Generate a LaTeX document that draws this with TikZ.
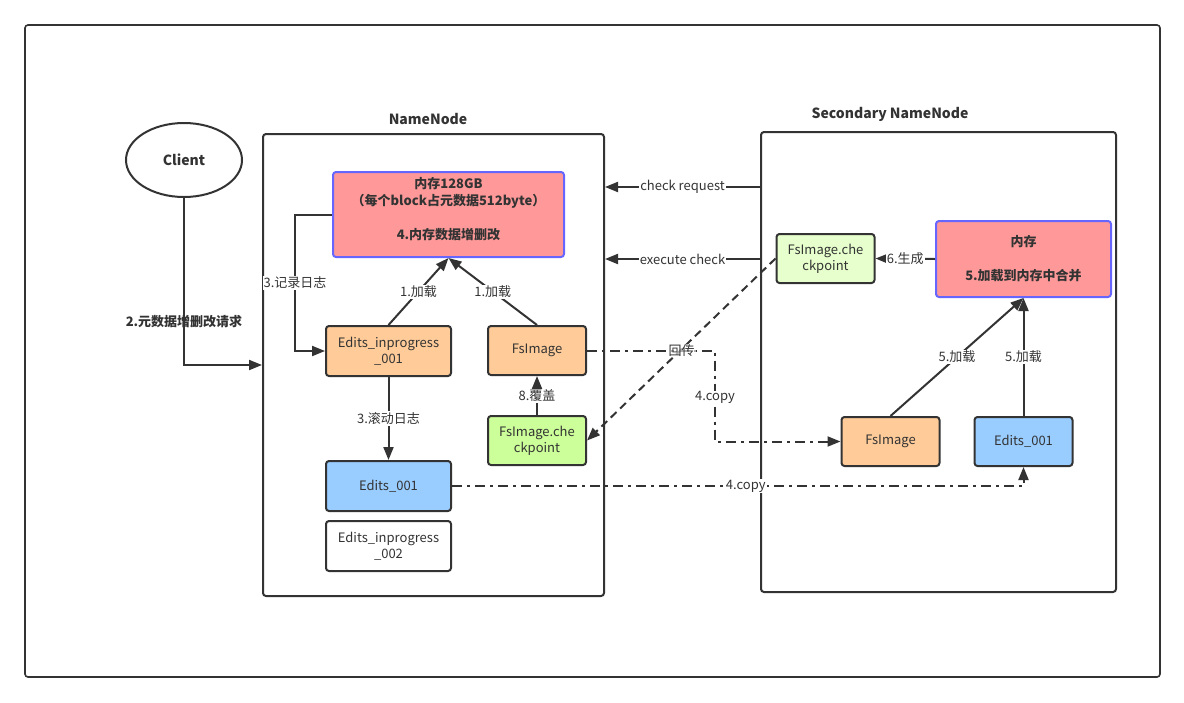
\documentclass[tikz,border=0pt]{standalone}
\usepackage{fontspec}
\setmainfont{Noto Sans CJK SC}
\usetikzlibrary{arrows.meta,shapes.geometric}
\definecolor{linegray}{HTML}{333333}
\definecolor{memred}{HTML}{FF9999}
\definecolor{memblue}{HTML}{6666FF}
\definecolor{fsorange}{HTML}{FFCC99}
\definecolor{ckgreen}{HTML}{CCFF99}
\definecolor{cklight}{HTML}{E6FFCC}
\definecolor{edblue}{HTML}{99CCFF}
\begin{document}
\begin{tikzpicture}[x=1pt,y=-1pt,
  box/.style={draw=linegray,line width=2pt,rounded corners=3pt,minimum width=98pt,minimum height=49pt,align=center,inner sep=2pt,text=linegray,font=\fontsize{13}{16}\selectfont},
  widebox/.style={box,minimum width=125pt,minimum height=50pt},
  membox/.style={box,draw=memblue,fill=memred,font=\bfseries\fontsize{13}{17}\selectfont},
  panel/.style={draw=linegray,line width=2pt,rounded corners=3pt},
  paneltitle/.style={text=linegray,font=\bfseries\fontsize{14}{16}\selectfont},
  lbl/.style={fill=white,inner sep=1pt,text=linegray,font=\fontsize{13}{15}\selectfont},
  arr/.style={draw=linegray,line width=2pt,-{Triangle[length=13pt,width=10pt]}},
  copyline/.style={arr,dash pattern=on 10pt off 5pt on 3pt off 5pt},
  backline/.style={arr,dash pattern=on 8pt off 5pt}]
\useasboundingbox (0,0) rectangle (1184,702);
\draw[linegray,line width=1.6pt,rounded corners=3pt] (25,25) rectangle (1160,677);
% NameNode
\node[panel,minimum width=341pt,minimum height=462pt] (nn) at (433.5,365) {};
\node[paneltitle] (nntitle) at (428,119) {NameNode};
\node[membox,minimum width=231pt,minimum height=85pt] (mem) at (448.5,214.5) {内存128GB\\（每个block占元数据512byte）\\[17pt]4.内存数据增删改\\[-4pt]\mbox{}};
\node[widebox,fill=fsorange] (eip1) at (388.5,351) {Edits\_inprogress\\\_001};
\node[box,fill=fsorange] (fsimg) at (537,350.5) {FsImage};
\node[box,fill=ckgreen] (ckpt) at (537,440.5) {FsImage.che\\ckpoint};
\node[widebox,fill=edblue] (ed1) at (388.5,486) {Edits\_001};
\node[widebox] (eip2) at (388.5,546) {Edits\_inprogress\\\_002};
% Client
\node[ellipse,draw=linegray,line width=2pt,minimum width=116pt,minimum height=74pt,text=linegray,font=\bfseries\fontsize{14}{16}\selectfont] (client) at (184,160) {Client};
% Secondary NameNode
\node[panel,minimum width=355pt,minimum height=460pt] (snn) at (938.5,362) {};
\node[paneltitle] (snntitle) at (890,114) {Secondary NameNode};
\node[box,fill=cklight] (ckpt2) at (825.5,258.5) {FsImage.che\\ckpoint};
\node[membox,minimum width=175pt,minimum height=76pt] (mem2) at (1023.5,259) {内存\\[17pt]5.加载到内存中合并};
\node[box,fill=fsorange] (fsimg2) at (890.5,441.5) {FsImage};
\node[box,fill=edblue] (ed2) at (1023.5,441.5) {Edits\_001};

\draw[arr] (client.south) |- node[pos=0.37,text=linegray,font=\bfseries\fontsize{13}{15}\selectfont]{2.元数据增删改请求} (nn.west);
\draw[arr] (mem.west) -- ++(-37,0) |- node[lbl,pos=0.25]{3.记录日志} (eip1.west);
\draw[arr] (eip1.north) -- node[lbl]{1.加载} (mem.south);
\draw[arr] (fsimg.north) -- node[lbl]{1.加载} (mem.south);
\draw[arr] (eip1.south) -- node[lbl]{3.滚动日志} (ed1.north);
\draw[arr] (ckpt.north) -- node[lbl]{8.覆盖} (fsimg.south);
\draw[arr] (snn.west |- 0,187) -- node[lbl]{check request} (nn.east |- 0,187);
\draw[arr] (snn.west |- 0,259) -- node[lbl]{execute check} (nn.east |- 0,259);
\draw[arr] (mem2.west) -- node[lbl]{6.生成} (ckpt2.east);
\draw[backline] (ckpt2.west) -- (ckpt.east);
\draw[copyline] (fsimg.east) -- node[pos=0.74,fill=white,fill opacity=0.6,text opacity=1,inner sep=1pt,text=linegray,font=\fontsize{13}{15}\selectfont]{回传} ++(128,0) |- node[lbl,pos=0.26]{4.copy} (fsimg2.west);
\draw[copyline] (ed1.east) -| node[lbl,pos=0.257]{4.copy} (ed2.south);
\draw[arr] (fsimg2.north) -- node[lbl]{5.加载} (mem2.south);
\draw[arr] (ed2.north) -- node[lbl]{5.加载} (mem2.south);
\end{tikzpicture}
\end{document}
